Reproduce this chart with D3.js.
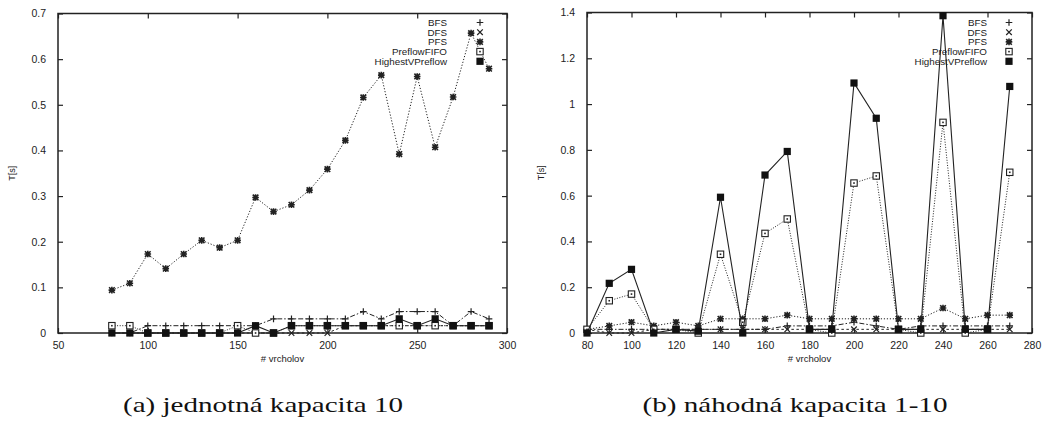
<!DOCTYPE html>
<html>
<head>
<meta charset="utf-8">
<script src="https://cdn.jsdelivr.net/npm/d3@7/dist/d3.min.js"></script>
<style>
  html, body { margin: 0; padding: 0; background: #fff; }
  svg { display: block; }
</style>
</head>
<body>
<svg id="viz" width="1044" height="436"></svg>
<script>
const WIDTH = 1044;
const HEIGHT = 436;
const SANS = "'Liberation Sans', Arial, Helvetica, sans-serif";
const SERIF = "'Liberation Serif', 'Times New Roman', serif";

// series names, in legend order
const seriesNames = ["BFS", "DFS", "PFS", "PreflowFIFO", "HighestVPreflow"];

// (a) jednotna kapacita 10
const xA = [80, 90, 100, 110, 120, 130, 140, 150, 160, 170, 180, 190, 200, 210, 220, 230, 240, 250, 260, 270, 280, 290];
const aBFS  = [0, 0, 0.016, 0.016, 0.016, 0.016, 0.016, 0.016, 0.016, 0.031, 0.031, 0.031, 0.031, 0.031, 0.047, 0.031, 0.047, 0.047, 0.047, 0.016, 0.047, 0.031];
const aDFS  = [0, 0, 0, 0, 0, 0, 0, 0, 0, 0, 0, 0, 0, 0.016, 0.016, 0.016, 0.016, 0.016, 0.016, 0.016, 0.016, 0.016];
const aPFS  = [0.094, 0.109, 0.173, 0.141, 0.173, 0.203, 0.187, 0.203, 0.297, 0.266, 0.281, 0.313, 0.359, 0.422, 0.516, 0.565, 0.392, 0.562, 0.407, 0.517, 0.657, 0.579];
const aFIFO = [0.016, 0.016, 0, 0, 0, 0, 0, 0.016, 0, 0, 0.016, 0.016, 0.016, 0.016, 0.016, 0.016, 0.016, 0.016, 0.016, 0.016, 0.016, 0.016];
const aHVP  = [0, 0, 0, 0, 0, 0, 0, 0, 0.016, 0, 0.016, 0.016, 0.016, 0.016, 0.016, 0.016, 0.031, 0.016, 0.031, 0.016, 0.016, 0.016];

// (b) nahodna kapacita 1-10
const xB = [80, 90, 100, 110, 120, 130, 140, 150, 160, 170, 180, 190, 200, 210, 220, 230, 240, 250, 260, 270];
const bBFS  = [0.016, 0.016, 0.016, 0.016, 0.016, 0.016, 0.016, 0.016, 0.016, 0.031, 0.031, 0.031, 0.047, 0.031, 0.016, 0.031, 0.031, 0.031, 0.031, 0.031];
const bDFS  = [0.016, 0, 0, 0.016, 0.016, 0.016, 0.016, 0.016, 0.016, 0.016, 0.016, 0.016, 0.016, 0.016, 0.016, 0.016, 0.016, 0.016, 0.016, 0.016];
const bPFS  = [0.016, 0.031, 0.047, 0.031, 0.047, 0.031, 0.062, 0.062, 0.062, 0.078, 0.062, 0.062, 0.062, 0.062, 0.062, 0.062, 0.109, 0.062, 0.078, 0.078];
const bFIFO = [0.016, 0.141, 0.170, 0.016, 0.016, 0, 0.344, 0.047, 0.435, 0.498, 0.016, 0, 0.655, 0.686, 0.016, 0, 0.920, 0, 0.016, 0.702];
const bHVP  = [0, 0.217, 0.278, 0, 0.016, 0.008, 0.593, 0, 0.690, 0.793, 0.016, 0.016, 1.092, 0.938, 0.016, 0.016, 1.386, 0.016, 0.016, 1.077];

// tick values
const xTicksA = [50, 100, 150, 200, 250, 300];
const yTicksA = [0, 0.1, 0.2, 0.3, 0.4, 0.5, 0.6, 0.7];
const xTicksB = [80, 100, 120, 140, 160, 180, 200, 220, 240, 260, 280];
const yTicksB = [0, 0.2, 0.4, 0.6, 0.8, 1, 1.2, 1.4];

const captions = ["(a) jednotná kapacita 10", "(b) náhodná kapacita 1-10"];

// line style per series (dash pattern), marker type per series
const dashes = ["5,2,1.5,2", "2.5,2.5", "1.2,1.8", "1,1.6", null];
const markers = ["plus", "cross", "star", "box", "fbox"];

const svg = d3.select("#viz").attr("viewBox", [0, 0, WIDTH, HEIGHT]);

function markerPath(type) {
  const p = d3.path();
  const s = 3.3;
  if (type === "plus" || type === "star") {
    p.moveTo(-s, 0); p.lineTo(s, 0);
    p.moveTo(0, -s); p.lineTo(0, s);
  }
  if (type === "cross" || type === "star") {
    const c = 2.8;
    p.moveTo(-c, -c); p.lineTo(c, c);
    p.moveTo(-c, c); p.lineTo(c, -c);
  }
  return p.toString();
}

function drawMarker(sel, type) {
  if (type === "box") {
    sel.append("rect").attr("x", -3.2).attr("y", -3.2).attr("width", 6.4).attr("height", 6.4)
      .attr("fill", "#fff").attr("stroke", "#222").attr("stroke-width", 1.1);
    sel.append("rect").attr("x", -0.8).attr("y", -0.8).attr("width", 1.6).attr("height", 1.6).attr("fill", "#222");
  } else if (type === "fbox") {
    sel.append("rect").attr("x", -3.6).attr("y", -3.6).attr("width", 7.2).attr("height", 7.2).attr("fill", "#111");
  } else {
    sel.append("path").attr("d", markerPath(type))
      .attr("fill", "none").attr("stroke", "#222").attr("stroke-width", type === "star" ? 1.6 : 1.2);
  }
}

function drawPanel(cfg) {
  const x = d3.scaleLinear().domain(cfg.xDomain).range([cfg.left, cfg.right]);
  const y = d3.scaleLinear().domain(cfg.yDomain).range([cfg.bottom, cfg.top]);
  const g = svg.append("g");

  // frame
  g.append("rect")
    .attr("x", cfg.left).attr("y", cfg.top)
    .attr("width", cfg.right - cfg.left).attr("height", cfg.bottom - cfg.top)
    .attr("fill", "none").attr("stroke", "#222").attr("stroke-width", 1.5);

  // axes with inward ticks, mirrored
  const TL = 5;
  g.append("g").attr("transform", `translate(0,${cfg.bottom})`)
    .call(d3.axisBottom(x).tickValues(cfg.xTicks).tickSize(-TL).tickPadding(9).tickFormat(d3.format("d")))
    .call(a => a.select(".domain").remove());
  g.append("g").attr("transform", `translate(0,${cfg.top})`)
    .call(d3.axisTop(x).tickValues(cfg.xTicks).tickSize(-TL).tickFormat(""))
    .call(a => a.select(".domain").remove());
  g.append("g").attr("transform", `translate(${cfg.left},0)`)
    .call(d3.axisLeft(y).tickValues(cfg.yTicks).tickSize(-TL).tickPadding(12).tickFormat(d => String(+d.toFixed(1))))
    .call(a => a.select(".domain").remove());
  g.append("g").attr("transform", `translate(${cfg.right},0)`)
    .call(d3.axisRight(y).tickValues(cfg.yTicks).tickSize(-TL).tickFormat(""))
    .call(a => a.select(".domain").remove());
  g.selectAll(".tick line").attr("stroke", "#222").attr("stroke-width", 1.2);
  g.selectAll(".tick text")
    .style("font-family", SANS).style("font-size", "10.5px").attr("fill", "#222");

  // axis titles
  g.append("text")
    .attr("transform", `translate(${cfg.left - 43},${(cfg.top + cfg.bottom) / 2}) rotate(-90)`)
    .attr("text-anchor", "middle").style("font-family", SANS).style("font-size", "9px")
    .attr("fill", "#222").text("T[s]");
  g.append("text")
    .attr("x", (cfg.left + cfg.right) / 2).attr("y", cfg.bottom + 29)
    .attr("text-anchor", "middle").style("font-family", SANS).style("font-size", "9.5px")
    .attr("fill", "#222").text("# vrcholov");

  const line = d3.line().x(d => x(d[0])).y(d => y(d[1]));

  cfg.series.forEach((vals, i) => {
    const pts = cfg.xs.map((xv, j) => [xv, vals[j]]);
    g.append("path").datum(pts)
      .attr("d", line)
      .attr("fill", "none")
      .attr("stroke", "#222")
      .attr("stroke-width", i === 4 ? 1.1 : 1)
      .attr("stroke-dasharray", dashes[i]);
    const mg = g.append("g").selectAll("g").data(pts).join("g")
      .attr("transform", d => `translate(${x(d[0])},${y(d[1])})`);
    mg.each(function () { drawMarker(d3.select(this), markers[i]); });
  });

  // legend (points only)
  const lg = g.append("g");
  seriesNames.forEach((name, i) => {
    const yy = cfg.legendTop + i * 9.7;
    lg.append("text")
      .attr("x", cfg.legendTextX).attr("y", yy).attr("dy", "0.35em")
      .attr("text-anchor", "end").style("font-family", SANS).style("font-size", "9.8px")
      .attr("fill", "#222").text(name);
    const m = lg.append("g").attr("transform", `translate(${cfg.legendMarkX},${yy})`);
    drawMarker(m, markers[i]);
  });

  // caption
  svg.append("text")
    .attr("x", cfg.captionX).attr("y", 412)
    .attr("text-anchor", "middle").style("font-family", SERIF).style("font-size", "21px")
    .attr("fill", "#111")
    .attr("textLength", cfg.captionLen).attr("lengthAdjust", "spacingAndGlyphs")
    .text(cfg.caption);
}

drawPanel({
  left: 58, right: 507, top: 13.5, bottom: 333,
  xDomain: [50, 300], yDomain: [0, 0.7],
  xTicks: xTicksA, yTicks: yTicksA,
  xs: xA, series: [aBFS, aDFS, aPFS, aFIFO, aHVP],
  legendTop: 22.5, legendTextX: 447, legendMarkX: 480,
  caption: captions[0], captionX: 263, captionLen: 280
});

drawPanel({
  left: 587, right: 1032, top: 12.5, bottom: 333,
  xDomain: [80, 280], yDomain: [0, 1.4],
  xTicks: xTicksB, yTicks: yTicksB,
  xs: xB, series: [bBFS, bDFS, bPFS, bFIFO, bHVP],
  legendTop: 22.5, legendTextX: 987, legendMarkX: 1009,
  caption: captions[1], captionX: 795, captionLen: 305
});
</script>
</body>
</html>
